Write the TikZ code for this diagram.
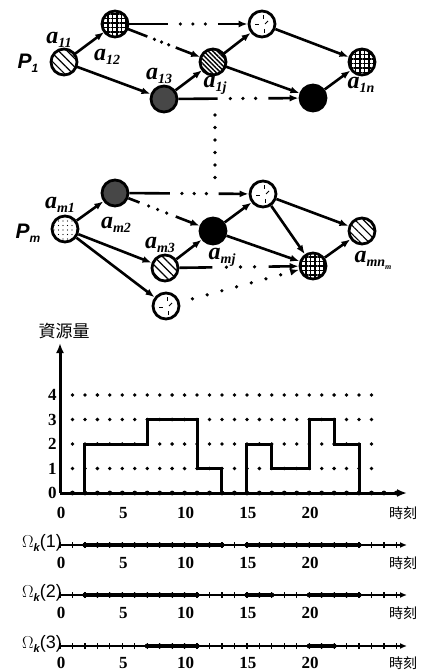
\documentclass[tikz,border=0pt]{standalone}
\usepackage{fontspec}
\setmainfont{Liberation Serif}
\setsansfont{Liberation Sans}
\newfontfamily\cjk{Noto Sans CJK TC}
\usetikzlibrary{calc,arrows.meta,patterns.meta}

\newcommand{\alab}[1]{{\fontsize{24}{24}\selectfont\bfseries\itshape a}\raisebox{-4pt}{\fontsize{14}{14}\selectfont\bfseries\itshape #1}}
\newcommand{\plab}[1]{{\fontsize{21}{21}\selectfont\sffamily\bfseries\itshape P}\raisebox{-4pt}{\fontsize{12}{12}\selectfont\sffamily\bfseries\itshape #1}}
\newcommand{\omlab}[1]{{\fontsize{18}{18}\selectfont\sffamily $\Omega$\raisebox{-4pt}{\fontsize{11}{11}\selectfont\bfseries\itshape k}(#1)}}

\newcommand{\mixedge}[4]{%
  \pgfmathsetmacro\da{#3+(#4-#3)*0.25}%
  \pgfmathsetmacro\db{#3+(#4-#3)*0.5}%
  \pgfmathsetmacro\dc{#3+(#4-#3)*0.75}%
  \draw[edge] (#1) -- ($(#1)!#3!(#2)$);
  \fill ($(#1)!\da!(#2)$) circle[radius=1.8pt];
  \fill ($(#1)!\db!(#2)$) circle[radius=1.8pt];
  \fill ($(#1)!\dc!(#2)$) circle[radius=1.8pt];
  \draw[arr] ($(#1)!#4!(#2)$) -- (#2);
}

\newcommand{\omegaline}[3]{%
  \begin{scope}[shift={(60,#1)},x=12.46pt,y=1pt]
    \draw[line width=1.5pt,-{Latex[length=7pt,width=6pt]}] (0,0) -- (27.85,0);
    \foreach \t in {0,...,27} \draw[line width=1.2pt] (\t,-3) -- (\t,3);
    \foreach \a/\b in {#3} {
      \draw[line width=4pt] (\a,0) -- (\b,0);
      \foreach \t in {\a,...,\b} \fill (\t,0) circle[radius=2.5pt];
    }
  \end{scope}
}

\tikzset{
  task/.style={circle,draw,line width=2.8pt,minimum size=26pt,inner sep=0pt,fill=white},
  hatchs/.style={task,pattern={Lines[angle=-45,distance=6pt,line width=1.2pt]}},
  hatchd/.style={task,pattern={Lines[angle=-45,distance=3.2pt,line width=1.5pt]}},
  gridfill/.style={task,pattern={Hatch[angle=0,distance=4.5pt,line width=1.1pt]}},
  darkfill/.style={task,fill=black!72},
  blackfill/.style={task,fill=black},
  dotfill/.style={task,pattern={Dots[distance=4.5pt,radius=0.6pt]}},
  dashw/.style={task,path picture={
      \draw[line width=1pt] ($(path picture bounding box.center)+(1,-9)$) -- ++(0,4);
      \draw[line width=1pt] ($(path picture bounding box.center)+(-7,1)$) -- ++(4,0);
      \draw[line width=1pt] ($(path picture bounding box.center)+(3,0)$) -- ++(3,-3);
      \draw[line width=1pt] ($(path picture bounding box.center)+(2,5)$) -- ++(0,4);
    }},
  edge/.style={line width=2.6pt},
  arr/.style={edge,-{Latex[length=9pt,width=7pt]}},
  lab/.style={inner sep=0pt},
  num/.style={inner sep=0pt,font=\fontsize{17}{17}\selectfont\bfseries},
  cjklab/.style={inner sep=0pt,font=\cjk\fontsize{14}{14}\selectfont},
}

\begin{document}
\begin{tikzpicture}[x=1pt,y=-1pt]
\useasboundingbox (0,0) rectangle (422,671);

% ---------- P1 network ----------
\node[hatchs]    (n11) at (64,62) {};
\node[gridfill]  (n12) at (115,24) {};
\node[darkfill]  (n13) at (164,99) {};
\node[hatchd]    (n1j) at (213,62) {};
\node[dashw]     (n1u) at (262,24) {};
\node[blackfill] (n1b) at (313,98) {};
\node[gridfill]  (n1n) at (362,62) {};

\node[lab] (P1)  at (28,63) {\plab{1}};
\node[lab] (l11) at (59,40) {\alab{11}};
\node[lab] (l12) at (107,57) {\alab{12}};
\node[lab] (l13) at (159,76) {\alab{13}};
\node[lab] (l1j) at (215,85) {\alab{1j}};
\node[lab] (l1n) at (361,85) {\alab{1n}};

\draw[arr] (n11) -- (n12);
\draw[arr] (n11) -- (n13);
\mixedge{n12}{n1u}{0.36}{0.70}
\mixedge{n12}{n1j}{0.33}{0.62}
\draw[arr] (n13) -- (n1j);
\mixedge{n13}{n1b}{0.36}{0.70}
\draw[arr] (n1j) -- (n1u);
\draw[arr] (n1j) -- (n1b);
\draw[arr] (n1u) -- (n1n);
\draw[arr] (n1b) -- (n1n);

% vertical ellipsis
\foreach \yy in {115,127.5,...,178} \fill (215,\yy) circle[radius=1.8pt];

% ---------- Pm network ----------
\node[dotfill]   (m1) at (65,229) {};
\node[darkfill]  (m2) at (115,193) {};
\node[blackfill] (mj) at (213,231) {};
\node[dashw]     (mu) at (263,194) {};
\node[hatchs]    (m3) at (165,268) {};
\node[gridfill]  (mg) at (313,266) {};
\node[hatchs]    (mn) at (362,231) {};
\node[dashw]     (mb) at (166,306) {};

\node[lab] (Pm)  at (28,233) {\plab{m}};
\node[lab] (lm1) at (60,205) {\alab{m1}};
\node[lab] (lm2) at (116,225) {\alab{m2}};
\node[lab] (lm3) at (160,245) {\alab{m3}};
\node[lab] (lmj) at (222,257) {\alab{mj}};
\node[lab] (lmn) at (373,260) {\alab{mn\raisebox{-3pt}{\fontsize{8}{8}\selectfont m}}};

\draw[arr] (m1) -- (m2);
\draw[arr] (m1) -- (m3);
\draw[arr] (m1) -- (mb);
\mixedge{m2}{mu}{0.37}{0.70}
\mixedge{m2}{mj}{0.25}{0.62}
\draw[arr] (m3) -- (mj);
\mixedge{m3}{mg}{0.32}{0.70}
\foreach \f in {0.18,0.28,...,0.80} \fill ($(mb)!\f!(mg)$) circle[radius=1.8pt];
\draw[arr] ($(mb)!0.86!(mg)$) -- (mg);
\draw[arr] (mj) -- (mu);
\draw[arr] (mj) -- (mg);
\draw[arr] (mu) -- (mn);
\draw[arr] (mu) -- (mg);
\draw[arr] (mg) -- (mn);

% ---------- resource chart ----------
\node[inner sep=0pt,font=\cjk\fontsize{17}{17}\selectfont] (ylab) at (64,331) {資源量};
\begin{scope}[shift={(60,493)},x=12.46pt,y=24.5pt]
  \foreach \yy in {1,...,4} \foreach \t in {1,...,25} \fill (\t,\yy) circle[radius=1.9pt];
  \draw[line width=3pt,-{Latex[length=10pt,width=8pt]}] (0,0) -- (0,6.12);
  \draw[line width=3pt,-{Latex[length=10pt,width=8pt]}] (0,0) -- (27.85,0);
  \foreach \t in {1,...,27} \fill (\t,0) circle[radius=2.4pt];
  \draw[line width=3pt] (2,0) -- (2,2) -- (7,2) -- (7,3) -- (11,3) -- (11,1) -- (13,1) -- (13,0);
  \draw[line width=3pt] (15,0) -- (15,2) -- (17,2) -- (17,1) -- (20,1) -- (20,3) -- (22,3) -- (22,2) -- (24,2) -- (24,0);
  \foreach \yy in {0,...,4} \node[num,anchor=east] at (-0.25,\yy) {\yy};
\end{scope}

% ---------- time labels ----------
\foreach \yl in {513,563,613,663} {
  \foreach \t in {0,5,10,15,20} \node[num] at ({61+12.46*\t},\yl) {\t};
  \node[cjklab,anchor=west] at (389,\yl) {時刻};
}

% ---------- Omega lines ----------
\omegaline{545}{1}{2/13,15/24}
\omegaline{595}{2}{2/11,15/17,20/24}
\omegaline{646}{3}{7/11,20/22}
\node[lab,anchor=east] (om1) at (62,543) {\omlab{1}};
\node[lab,anchor=east] (om2) at (62,593) {\omlab{2}};
\node[lab,anchor=east] (om3) at (62,644) {\omlab{3}};

\end{tikzpicture}
\end{document}
